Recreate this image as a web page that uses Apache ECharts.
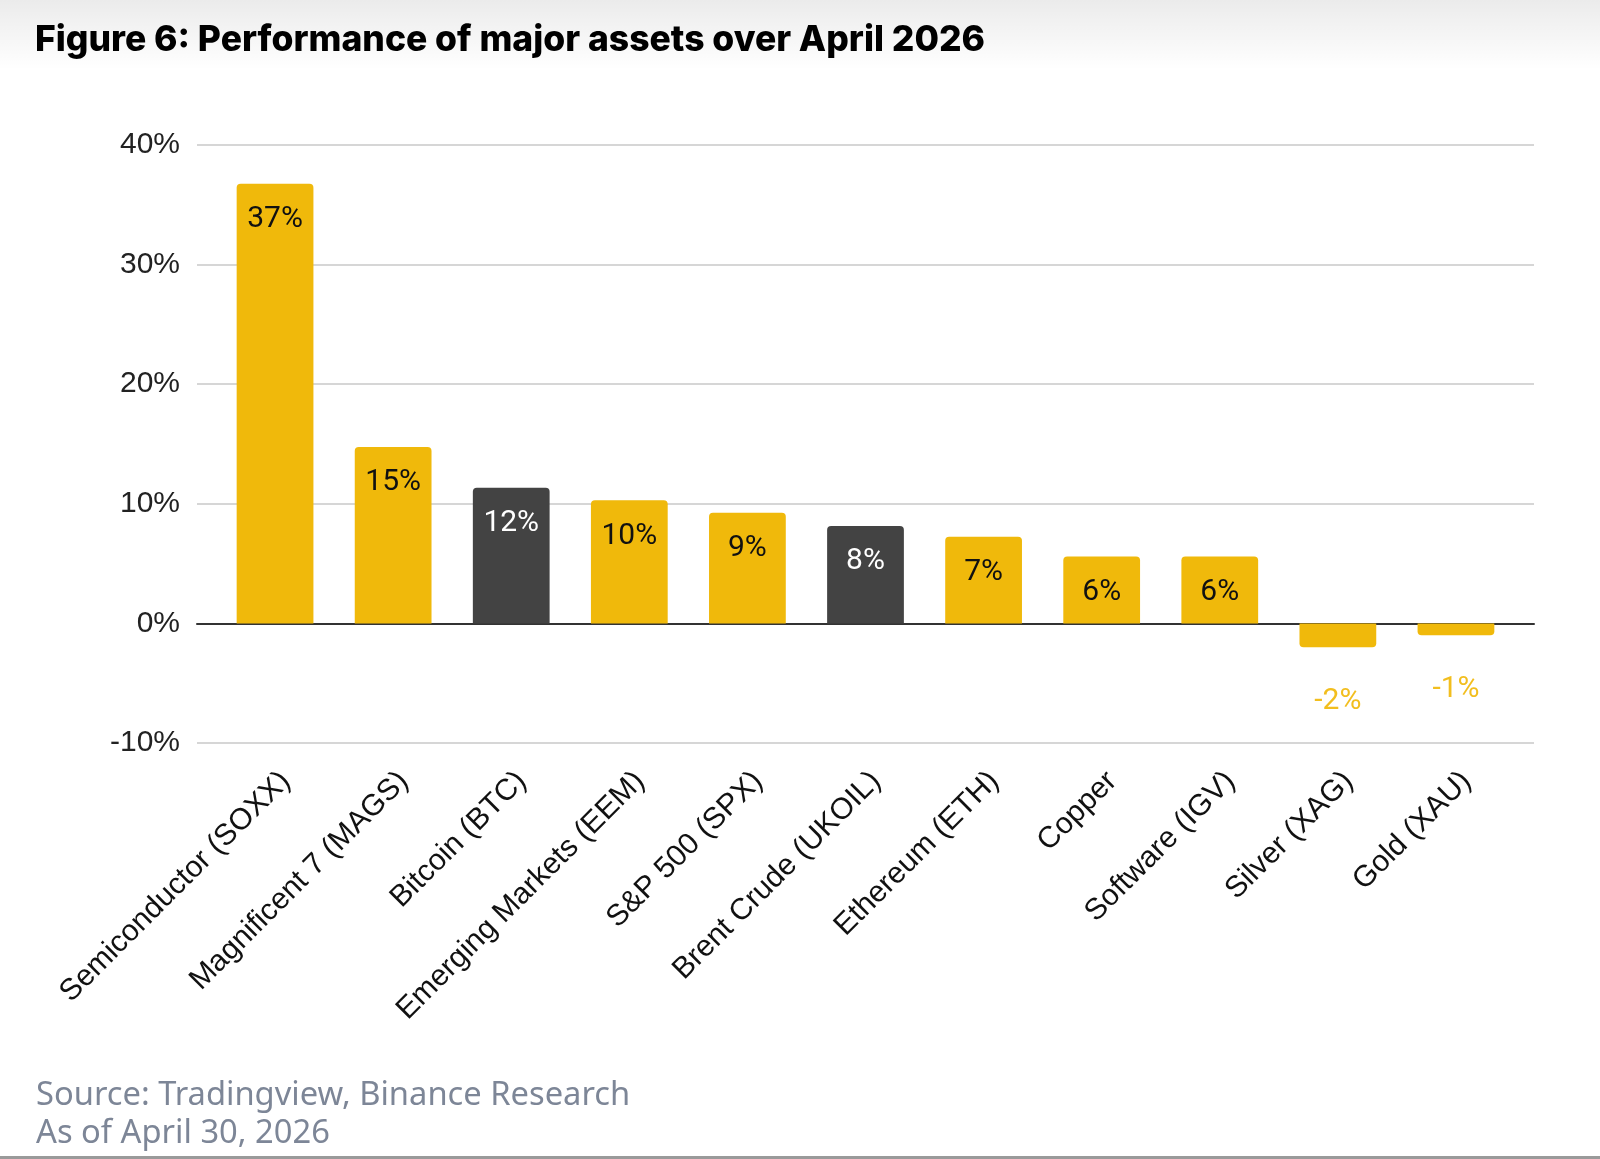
<!DOCTYPE html>
<html>
<head>
<meta charset="utf-8">
<script src="https://cdn.jsdelivr.net/npm/echarts@6/dist/echarts.min.js"></script>
<style>
  html, body { margin: 0; padding: 0; background: #fff; }
  #container { width: 1600px; height: 1159px; }
</style>
</head>
<body>
<div id="container"></div>
<script>
const assets = [
  "Semiconductor (SOXX)",
  "Magnificent 7 (MAGS)",
  "Bitcoin (BTC)",
  "Emerging Markets (EEM)",
  "S&P 500 (SPX)",
  "Brent Crude (UKOIL)",
  "Ethereum (ETH)",
  "Copper",
  "Software (IGV)",
  "Silver (XAG)",
  "Gold (XAU)",
];
// monthly change in %
const performance = [36.75, 14.75, 11.35, 10.3, 9.25, 8.15, 7.25, 5.6, 5.6, -2.0, -1.0];
// labels as printed on the bars
const valueLabels = ["37%", "15%", "12%", "10%", "9%", "8%", "7%", "6%", "6%", "-2%", "-1%"];
// these two are drawn in dark grey
const darkAssets = ["Bitcoin (BTC)", "Brent Crude (UKOIL)"];
const yTicks = [-10, 0, 10, 20, 30, 40];

const YELLOW = "#F0B90B";
const DARK = "#434343";

const dom = document.getElementById("container");
const myChart = echarts.init(dom, null, { renderer: "canvas" });

const barData = performance.map((v, i) => {
  const dark = darkAssets.includes(assets[i]);
  const neg = v < 0;
  return {
    value: v,
    itemStyle: {
      color: dark ? DARK : YELLOW,
      borderRadius: neg ? [0, 0, 4, 4] : [4, 4, 0, 0],
    },
    label: neg
      ? { position: "bottom", distance: 39, color: "#F2BE1E" }
      : { position: "insideTop", distance: 21, color: dark ? "#fff" : "#111" },
  };
});

const yMin = yTicks[0];
const yMax = yTicks[yTicks.length - 1];

const option = {
  backgroundColor: "#fff",
  animation: false,
  title: [
    {
      text: "Figure 6: Performance of major assets over April 2026",
      left: 30,
      top: 17,
      textStyle: {
        fontFamily: "Inter",
        fontWeight: 800,
        fontSize: 35.5,
        color: "#000",
      },
    },
    {
      text: "Source: Tradingview, Binance Research\nAs of April 30, 2026",
      left: 31,
      top: 1072,
      textStyle: {
        fontFamily: "Noto Sans",
        fontWeight: 400,
        fontSize: 32.7,
        lineHeight: 38,
        color: "#7D8697",
      },
    },
  ],
  graphic: [
    {
      type: "rect",
      left: 0,
      top: 0,
      shape: { width: 1600, height: 70 },
      style: {
        fill: new echarts.graphic.LinearGradient(0, 0, 0, 1, [
          { offset: 0, color: "rgba(0,0,0,0.08)" },
          { offset: 1, color: "rgba(0,0,0,0)" },
        ]),
      },
      z: -1,
    },
    {
      type: "rect",
      left: 0,
      top: 1156,
      shape: { width: 1600, height: 3 },
      style: { fill: "#9a9a9a" },
    },
  ],
  grid: [
    // full-width frame: gridlines, y labels, zero line
    { left: 197, right: 66, top: 145, bottom: 416 },
    // inset band for the bars
    { left: 216, right: 85, top: 145, bottom: 416 },
  ],
  xAxis: [
    {
      gridIndex: 0,
      type: "value",
      min: 0,
      max: 1,
      axisLine: { onZero: true, lineStyle: { color: "#333", width: 2 } },
      axisTick: { show: false },
      axisLabel: { show: false },
      splitLine: { show: false },
    },
    {
      gridIndex: 1,
      type: "category",
      data: assets,
      axisLine: { show: false },
      axisTick: { show: false },
      axisLabel: {
        interval: 0,
        rotate: 45,
        verticalAlign: "top",
        margin: 23,
        fontFamily: "Liberation Sans",
        fontSize: 30,
        color: "#111",
      },
    },
  ],
  yAxis: [
    {
      gridIndex: 0,
      type: "value",
      min: yMin,
      max: yMax,
      interval: 10,
      axisLine: { show: false },
      axisTick: { show: false },
      axisLabel: {
        margin: 17,
        fontFamily: "Liberation Sans",
        fontSize: 30,
        color: "#222",
        formatter: (v) => v + "%",
      },
      splitLine: { lineStyle: { color: "#d6d6d6", width: 2 } },
    },
    {
      gridIndex: 1,
      type: "value",
      min: yMin,
      max: yMax,
      interval: 10,
      show: false,
      splitLine: { show: false },
    },
  ],
  series: [
    {
      type: "bar",
      xAxisIndex: 1,
      yAxisIndex: 1,
      data: barData,
      barWidth: "65%",
      z: 3,
      label: {
        show: true,
        fontFamily: "Roboto",
        fontSize: 30,
        formatter: (p) => valueLabels[p.dataIndex],
      },
    },
  ],
};

myChart.setOption(option);
window.addEventListener("resize", myChart.resize);
</script>
</body>
</html>
